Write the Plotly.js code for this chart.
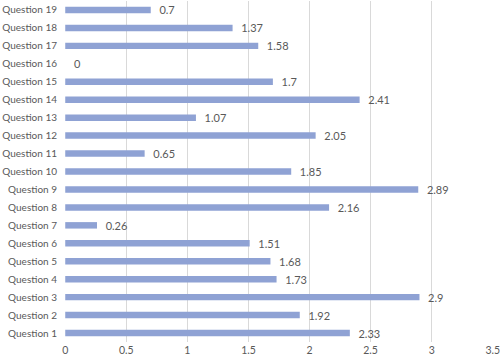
<!DOCTYPE html>
<html>
<head>
<meta charset="utf-8">
<script src="https://cdn.plot.ly/plotly-3.0.1.min.js"></script>
<style>html,body{margin:0;padding:0;background:#fff;}#chart{width:500px;height:360px;}</style>
</head>
<body>
<div id="chart"></div>
<script>
var categories = ["Question 1","Question 2","Question 3","Question 4","Question 5","Question 6","Question 7","Question 8","Question 9","Question 10","Question 11","Question 12","Question 13","Question 14","Question 15","Question 16","Question 17","Question 18","Question 19"];
var values = [2.33,1.92,2.9,1.73,1.68,1.51,0.26,2.16,2.89,1.85,0.65,2.05,1.07,2.41,1.7,0,1.58,1.37,0.7];
var valueLabels = ["2.33","1.92","2.9","1.73","1.68","1.51","0.26","2.16","2.89","1.85","0.65","2.05","1.07","2.41","1.7","0","1.58","1.37","0.7"];
var xTicks = [0,0.5,1,1.5,2,2.5,3,3.5];
var xTickLabels = ["0","0.5","1","1.5","2","2.5","3","3.5"];

var fontFam = "Lato, Liberation Sans, sans-serif";
var trace = {
  type: "bar",
  orientation: "h",
  x: values,
  y: categories,
  width: 0.36,
  marker: {color: "#8FA2D4"},
  text: valueLabels,
  texttemplate: "\u00a0\u00a0%{text}",
  textposition: "outside",
  constraintext: "none",
  cliponaxis: false,
  textfont: {family: fontFam, size: 11, color: "#595959"},
  hoverinfo: "none"
};
var layout = {
  width: 500, height: 360,
  margin: {l: 65, r: 7, t: 1, b: 18, pad: 0},
  paper_bgcolor: "#ffffff",
  plot_bgcolor: "#ffffff",
  showlegend: false,
  bargap: 0.6,
  xaxis: {
    range: [-0.002, 3.502],
    tickvals: xTicks,
    ticktext: xTickLabels,
    showgrid: true,
    gridcolor: "#d9d9d9",
    gridwidth: 1,
    zeroline: false,
    showline: false,
    ticks: "",
    ticklabeloverflow: "allow",
    tickfont: {family: fontFam, size: 10.5, color: "#595959"},
    fixedrange: true
  },
  yaxis: {
    type: "category",
    categoryorder: "array",
    categoryarray: categories,
    showgrid: false,
    zeroline: false,
    showline: false,
    ticks: "",
    ticklabelstandoff: 7,
    tickfont: {family: fontFam, size: 10, color: "#595959"},
    fixedrange: true
  }
};
Plotly.newPlot("chart", [trace], layout, {staticPlot: true, displayModeBar: false});
</script>
</body>
</html>
